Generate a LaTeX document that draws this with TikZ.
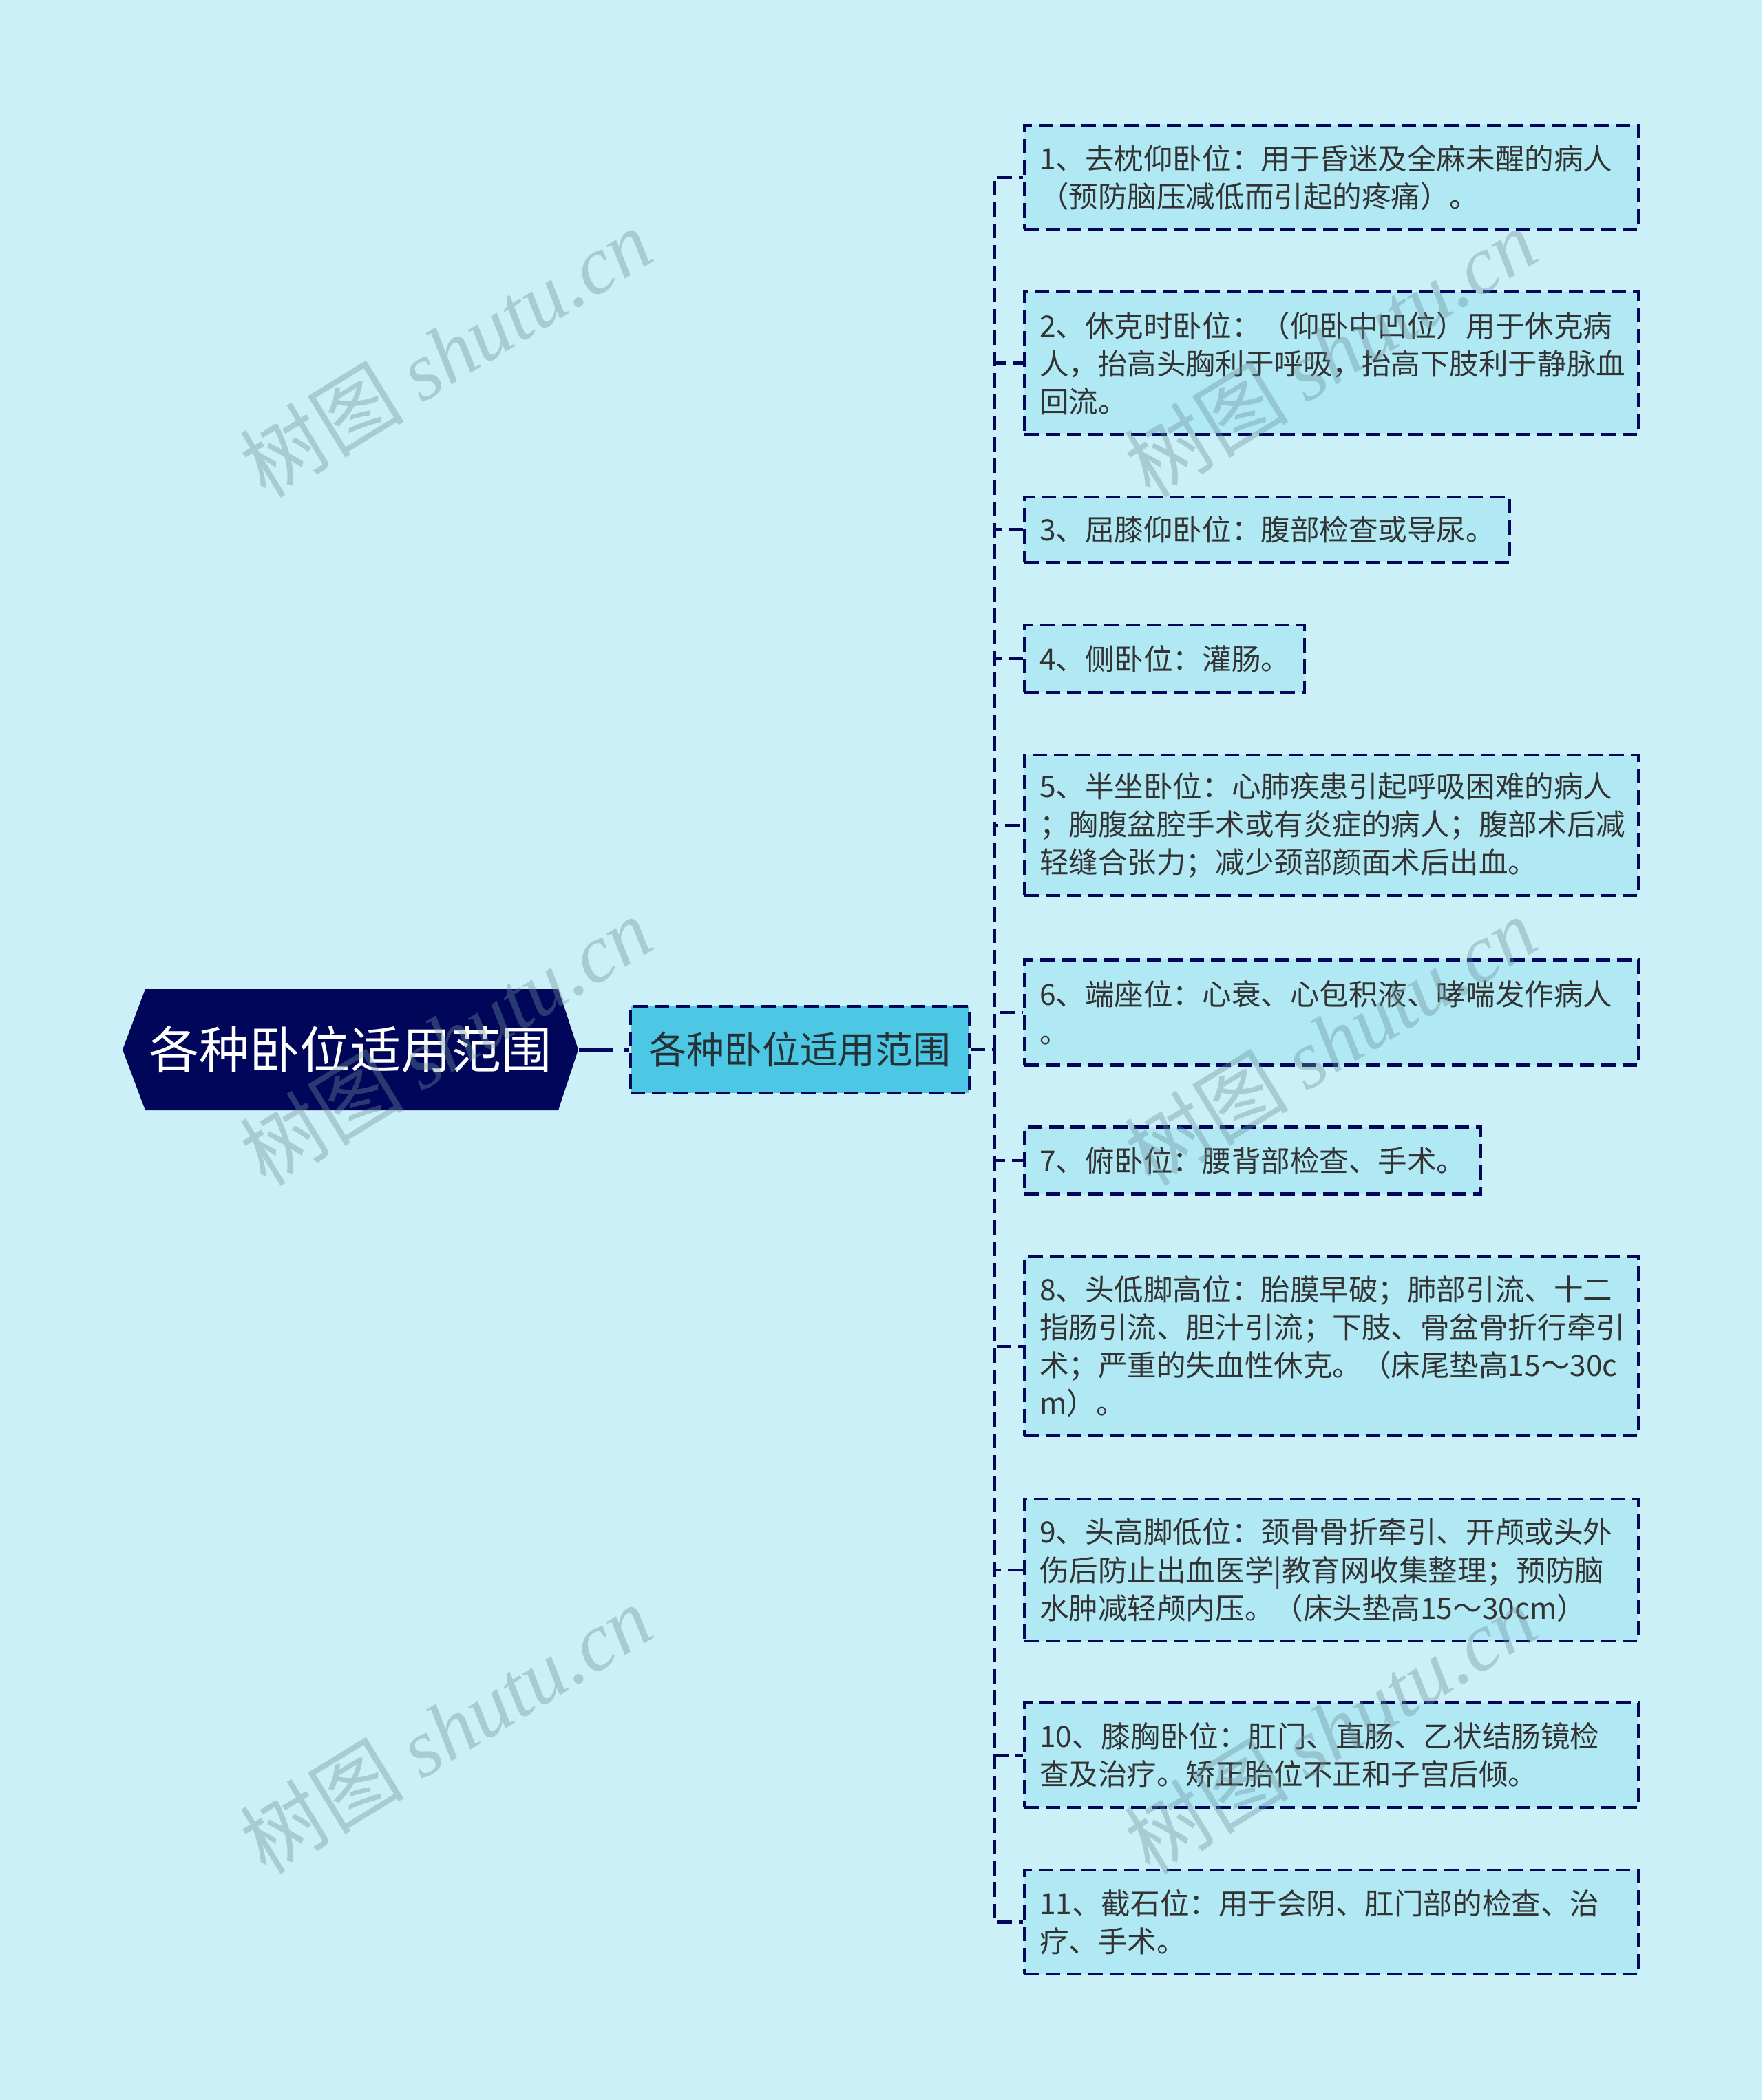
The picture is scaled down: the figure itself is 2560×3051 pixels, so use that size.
\documentclass[tikz,border=0pt]{standalone}
\usepackage{fontspec}
\setmainfont{Noto Sans CJK SC}
\newfontfamily\markfont{Liberation Serif}

\definecolor{bgcyan}{RGB}{204,240,248}
\definecolor{leaffill}{RGB}{176,232,244}
\definecolor{midfill}{RGB}{76,200,228}
\definecolor{navy}{RGB}{0,6,89}
\definecolor{inkgray}{RGB}{51,51,51}
\definecolor{markgray}{RGB}{110,145,155}

\begin{document}
\begin{tikzpicture}[x=0.01cm, y=-0.01cm,
    link/.style={navy, line width=1.2pt, dash pattern=on 0.21cm off 0.1cm},
    leafbox/.style={draw=navy, fill=leaffill, line width=1.2pt,
        dash pattern=on 0.21cm off 0.1cm, anchor=west, inner xsep=0.22cm,
        inner ysep=0pt, align=left, text=inkgray,
        font=\fontsize{12.1pt}{15.65pt}\selectfont},
    wmark/.style={markgray, opacity=0.38, rotate=31.5,
        font=\fontsize{34pt}{38pt}\selectfont}]

    % Background and page size
    \path[use as bounding box, fill=bgcyan] (0,0) rectangle (2560,3051);

    % Root
    \fill[navy] (178,1525) -- (211,1437) -- (811,1437) -- (840,1525)
        -- (811,1613) -- (211,1613) -- cycle;
    \node[text=white, font=\fontsize{20.8pt}{25pt}\selectfont,
        minimum width=6.62cm, minimum height=1.76cm] (root) at (509,1525) {各种卧位适用范围};

    % Middle topic
    \node[draw=navy, fill=midfill, line width=1.2pt, dash pattern=on 0.21cm off 0.1cm,
        minimum width=4.92cm, minimum height=1.26cm, inner sep=0pt,
        text={rgb,255:red,36;green,50;blue,56}, font=\fontsize{15.6pt}{19pt}\selectfont]
        (mid) at (1162,1525) {各种卧位适用范围};
    \draw[navy, line width=1.5pt, dash pattern=on 0.5cm off 0.16cm on 0.1cm off 0.16cm]
        (root.east) -- (mid.west);

    % Leaves
    \node[leafbox, text width=8.47cm, minimum height=1.51cm] (l1) at (1486,257.5)
        {1、去枕仰卧位：用于昏迷及全麻未醒的病人\\（预防脑压减低而引起的疼痛）。};
    \node[leafbox, text width=8.47cm, minimum height=2.07cm] (l2) at (1486,527.5)
        {2、休克时卧位：（仰卧中凹位）用于休克病\\人，抬高头胸利于呼吸，抬高下肢利于静脉血\\回流。};
    \node[leafbox, text width=6.60cm, minimum height=0.95cm] (l3) at (1486,769.5)
        {3、屈膝仰卧位：腹部检查或导尿。};
    \node[leafbox, text width=3.63cm, minimum height=0.98cm] (l4) at (1486,957)
        {4、侧卧位：灌肠。};
    \node[leafbox, text width=8.47cm, minimum height=2.04cm] (l5) at (1486,1199)
        {5、半坐卧位：心肺疾患引起呼吸困难的病人\\；胸腹盆腔手术或有炎症的病人；腹部术后减\\轻缝合张力；减少颈部颜面术后出血。};
    \node[leafbox, text width=8.47cm, minimum height=1.53cm] (l6) at (1486,1471)
        {6、端座位：心衰、心包积液、哮喘发作病人\\。};
    \node[leafbox, text width=6.18cm, minimum height=0.97cm] (l7) at (1486,1686)
        {7、俯卧位：腰背部检查、手术。};
    \node[leafbox, text width=8.47cm, minimum height=2.60cm] (l8) at (1486,1956)
        {8、头低脚高位：胎膜早破；肺部引流、十二\\指肠引流、胆汁引流；下肢、骨盆骨折行牵引\\术；严重的失血性休克。（床尾垫高15～30c\\m）。};
    \node[leafbox, text width=8.47cm, minimum height=2.06cm] (l9) at (1486,2281)
        {9、头高脚低位：颈骨骨折牵引、开颅或头外\\伤后防止出血医学|教育网收集整理；预防脑\\水肿减轻颅内压。（床头垫高15～30cm）};
    \node[leafbox, text width=8.47cm, minimum height=1.52cm] (l10) at (1486,2550)
        {10、膝胸卧位：肛门、直肠、乙状结肠镜检\\查及治疗。矫正胎位不正和子宫后倾。};
    \node[leafbox, text width=8.47cm, minimum height=1.51cm] (l11) at (1486,2792.5)
        {11、截石位：用于会阴、肛门部的检查、治\\疗、手术。};

    % Connectors
    \coordinate (fork) at (1445,1525);
    \draw[link] (mid.east) -- (fork);
    \draw[link] (fork) |- (l1.west);
    \draw[link] (fork) |- (l2.west);
    \draw[link] (fork) |- (l3.west);
    \draw[link] (fork) |- (l4.west);
    \draw[link] (fork) |- (l5.west);
    \draw[link] (fork) |- (l6.west);
    \draw[link] (fork) |- (l7.west);
    \draw[link] (fork) |- (l8.west);
    \draw[link] (fork) |- (l9.west);
    \draw[link] (fork) |- (l10.west);
    \draw[link] (fork) |- (l11.west);

    % Watermarks
    \node[wmark] (w1) at (647,512) {树图 {\markfont\itshape shutu.cn}};
    \node[wmark] (w2) at (1932,512) {树图 {\markfont\itshape shutu.cn}};
    \node[wmark] (w3) at (647,1512) {树图 {\markfont\itshape shutu.cn}};
    \node[wmark] (w4) at (1932,1512) {树图 {\markfont\itshape shutu.cn}};
    \node[wmark] (w5) at (647,2512) {树图 {\markfont\itshape shutu.cn}};
    \node[wmark] (w6) at (1932,2512) {树图 {\markfont\itshape shutu.cn}};
\end{tikzpicture}
\end{document}
